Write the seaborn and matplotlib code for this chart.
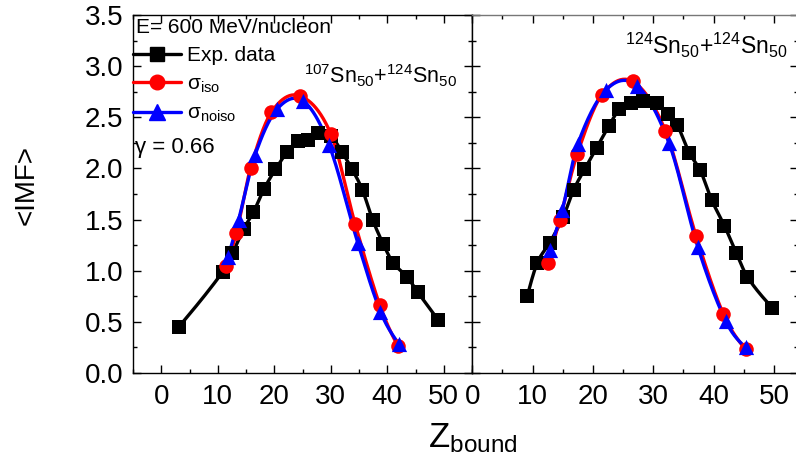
import numpy as np
import pandas as pd
import matplotlib
matplotlib.use("Agg")
import matplotlib.pyplot as plt
import seaborn as sns
from matplotlib.lines import Line2D
from matplotlib.transforms import blended_transform_factory, ScaledTranslation

# 107Sn + 124Sn panel
z_exp_107 = [3.1, 10.9, 12.6, 14.6, 16.3, 18.2, 20.2, 22.3, 24.2, 25.9, 27.8,
             30.0, 32.0, 33.8, 35.6, 37.4, 39.3, 41.0, 43.5, 45.4, 49.0]
imf_exp_107 = [0.45, 0.99, 1.17, 1.41, 1.57, 1.80, 1.99, 2.16, 2.27, 2.28, 2.35,
               2.32, 2.16, 1.99, 1.79, 1.50, 1.26, 1.08, 0.94, 0.79, 0.52]
z_iso_107 = [11.4, 13.3, 15.8, 19.5, 24.5, 30.0, 34.3, 38.7, 41.9]
imf_iso_107 = [1.05, 1.37, 2.00, 2.55, 2.71, 2.34, 1.46, 0.66, 0.26]
z_noiso_107 = [11.8, 13.7, 16.6, 20.5, 25.1, 29.7, 34.8, 38.8, 42.1]
imf_noiso_107 = [1.13, 1.50, 2.13, 2.58, 2.66, 2.23, 1.27, 0.60, 0.28]

# 124Sn + 124Sn panel
z_exp_124 = [9.1, 10.8, 12.8, 15.1, 16.8, 18.6, 20.6, 22.6, 24.4, 26.3, 28.3,
             30.6, 32.4, 34.0, 36.0, 37.8, 39.7, 41.8, 43.8, 45.6, 49.7]
imf_exp_124 = [0.75, 1.08, 1.27, 1.53, 1.79, 1.99, 2.20, 2.41, 2.58, 2.64, 2.66,
               2.64, 2.53, 2.42, 2.15, 1.98, 1.69, 1.44, 1.17, 0.94, 0.64]
z_iso_124 = [12.55, 14.5, 17.4, 21.5, 26.6, 32.0, 37.1, 41.6, 45.3]
imf_iso_124 = [1.08, 1.50, 2.14, 2.72, 2.85, 2.37, 1.34, 0.58, 0.23]
z_noiso_124 = [12.8, 14.9, 17.5, 22.2, 27.3, 32.6, 37.4, 42.0, 45.3]
imf_noiso_124 = [1.20, 1.59, 2.24, 2.77, 2.81, 2.25, 1.23, 0.51, 0.25]

x_ticks = [0, 10, 20, 30, 40, 50]
x_ticklabels = ["0", "10", "20", "30", "40", "50"]
y_ticks = [0.0, 0.5, 1.0, 1.5, 2.0, 2.5, 3.0, 3.5]

sns.set_theme(style="ticks")
plt.rcParams["font.family"] = ["Liberation Sans", "DejaVu Sans"]
plt.rcParams["mathtext.fontset"] = "custom"
plt.rcParams["mathtext.rm"] = "Liberation Sans"
plt.rcParams["mathtext.it"] = "Liberation Sans:italic"
plt.rcParams["mathtext.bf"] = "Liberation Sans:bold"
for key in ["text.color", "axes.labelcolor", "xtick.color", "ytick.color", "axes.edgecolor"]:
    plt.rcParams[key] = "black"


def smooth_line(x, y, n=25):
    # cubic hermite through the points, only used to draw the connecting curve
    x = np.asarray(x, float)
    y = np.asarray(y, float)
    m = np.zeros_like(y)
    m[1:-1] = (y[2:] - y[:-2]) / (x[2:] - x[:-2])
    d0 = (y[1] - y[0]) / (x[1] - x[0])
    dn = (y[-1] - y[-2]) / (x[-1] - x[-2])
    m[0] = (3 * d0 - m[1]) / 2
    m[-1] = (3 * dn - m[-2]) / 2
    xs, ys = [], []
    for i in range(len(x) - 1):
        h = x[i + 1] - x[i]
        t = np.linspace(0, 1, n, endpoint=False)
        h00 = 2 * t**3 - 3 * t**2 + 1
        h10 = t**3 - 2 * t**2 + t
        h01 = -2 * t**3 + 3 * t**2
        h11 = t**3 - t**2
        xs.append(x[i] + t * h)
        ys.append(h00 * y[i] + h10 * h * m[i] + h01 * y[i + 1] + h11 * h * m[i + 1])
    xs.append([x[-1]])
    ys.append([y[-1]])
    return pd.DataFrame({"z": np.concatenate(xs), "imf": np.concatenate(ys)})


def draw_series(ax, z, imf, color, marker, ms):
    curve = smooth_line(z, imf)
    sns.lineplot(data=curve, x="z", y="imf", ax=ax, color=color, lw=2.4,
                 sort=False, estimator=None, legend=False)
    pts = pd.DataFrame({"z": z, "imf": imf})
    sns.scatterplot(data=pts, x="z", y="imf", ax=ax, color=color, marker=marker,
                    s=ms, edgecolor=color, linewidth=0, legend=False, zorder=3)


fig = plt.figure(figsize=(7.96, 4.68), dpi=100)
ax1 = fig.add_axes([133 / 796, 95 / 468, 339 / 796, 358 / 468])
ax2 = fig.add_axes([472 / 796, 95 / 468, 326 / 796, 358 / 468])

draw_series(ax1, z_exp_107, imf_exp_107, "black", "s", 90)
draw_series(ax1, z_iso_107, imf_iso_107, "#ff0000", "o", 110)
draw_series(ax1, z_noiso_107, imf_noiso_107, "#0000ff", "^", 120)

draw_series(ax2, z_exp_124, imf_exp_124, "black", "s", 90)
draw_series(ax2, z_iso_124, imf_iso_124, "#ff0000", "o", 110)
draw_series(ax2, z_noiso_124, imf_noiso_124, "#0000ff", "^", 120)

for ax in (ax1, ax2):
    ax.set_xticks(x_ticks)
    ax.set_xticks(np.arange(-5, 56, 5), minor=True)
    ax.set_yticks(y_ticks)
    ax.set_yticks(np.arange(0, 3.51, 0.25), minor=True)
    ax.tick_params(which="both", direction="in", top=True, right=True,
                   width=1.0, color="black")
    ax.tick_params(which="major", length=6)
    ax.tick_params(which="minor", length=3)
    ax.tick_params(axis="x", labelsize=20, pad=8)
    ax.tick_params(axis="y", labelsize=20, pad=7)
    ax.set_xlabel("")
    ax.set_ylabel("")
    for sp in ax.spines.values():
        sp.set_visible(True)
        sp.set_linewidth(1.0)
        sp.set_color("black")
    ax.set_ylim(0, 3.5)
ax1.set_xticklabels(x_ticklabels)
# the right panel's "0" sits on the shared spine; it is drawn as its own text
ax2.set_xticklabels([""] + x_ticklabels[1:])
ax1.set_xlim(-5, 55)
ax2.set_xlim(-0.05, 54)
ax2.tick_params(axis="y", labelleft=False)
ax2.spines["top"].set_color("#777777")

zero_trans = blended_transform_factory(ax2.transData, ax2.transAxes) + \
    ScaledTranslation(0, -8 / 72, fig.dpi_scale_trans)
ax2.text(x_ticks[0], 0, x_ticklabels[0], transform=zero_trans, ha="center",
         va="top", fontsize=20, color="black")

ax1.text(0.009, 0.95, "E= 600 MeV/nucleon", transform=ax1.transAxes,
         fontsize=15, va="baseline", ha="left")
ax1.text(0.007, 0.615, "\u03b3 = 0.66", transform=ax1.transAxes,
         fontsize=16, va="baseline", ha="left")
ax1.text(0.955, 0.81, r"$^{107}$Sn$_{50}$+$^{124}$Sn$_{50}$", transform=ax1.transAxes,
         fontsize=15.5, va="baseline", ha="right")
ax2.text(153 / 326, 0.89, r"$^{124}$Sn$_{50}$+$^{124}$Sn$_{50}$", transform=ax2.transAxes,
         fontsize=16.5, va="baseline", ha="left")

handles = [
    Line2D([], [], color="black", marker="s", ms=9.5, lw=2.4),
    Line2D([], [], color="#ff0000", marker="o", ms=10.5, lw=2.4),
    Line2D([], [], color="#0000ff", marker="^", ms=11, lw=2.4),
]
labels = ["Exp. data", "\u03c3$_{\\mathrm{iso}}$", "\u03c3$_{\\mathrm{noiso}}$"]
ax1.legend(handles, labels, loc="upper left", bbox_to_anchor=(0.0, 0.913),
           frameon=False, fontsize=15, handlelength=2.3, handletextpad=0.3,
           labelspacing=0.45, borderpad=0, borderaxespad=0)

fig.text(27 / 796, 1 - 185 / 468, "<IMF>", rotation=90, fontsize=20,
         ha="center", va="center")
fig.text(473 / 796, 1 - 447 / 468, r"Z$_{\mathrm{bound}}$", fontsize=25,
         ha="center", va="baseline")

fig.savefig("out.png", dpi=100)
